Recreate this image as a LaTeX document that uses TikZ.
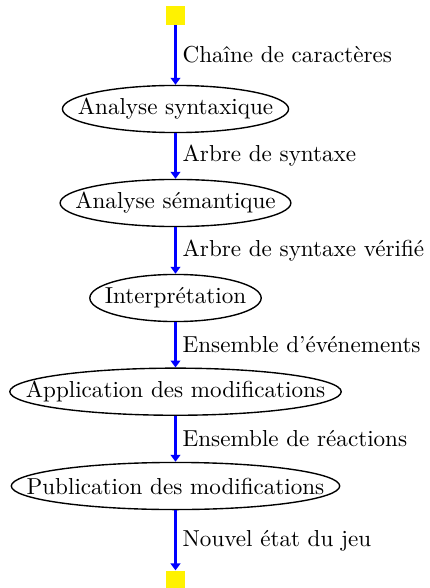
\documentclass[tikz,border=0pt]{standalone}
\usetikzlibrary{arrows.meta,shapes.geometric}
\begin{document}
\begin{tikzpicture}[x=0.433pt,y=-0.433pt,
  term/.style={rectangle, fill=yellow, draw=none, minimum size=8.2pt, inner sep=0pt},
  proc/.style={ellipse, draw=black, line width=0.6pt, inner sep=0pt, minimum height=20.4pt},
  txt/.style={inner sep=0pt},
  flow/.style={draw=blue, line width=1.0pt, -{Triangle[length=3pt,width=4.2pt]}},
  lbl/.style={right, inner sep=2.6pt, text=black}]
\useasboundingbox (0,0) rectangle (430,588);
\node[term] (s) at (175.5,15.3) {};
\node[proc, minimum width=97.9pt] (e1) at (175.5,109) {};
\node[txt] (t1) at (e1) {Analyse syntaxique};
\node[proc, minimum width=99.9pt] (e2) at (175.5,203) {};
\node[txt] (t2) at (e2) {Analyse sémantique};
\node[proc, minimum width=74.2pt] (e3) at (175.5,298) {};
\node[txt] (t3) at (e3) {Interprétation};
\node[proc, minimum width=143.5pt] (e4) at (175.5,391.7) {};
\node[txt] (t4) at (e4) {Application des modifications};
\node[proc, minimum width=142.2pt] (e5) at (175.5,486) {};
\node[txt] (t5) at (e5) {Publication des modifications};
\node[term] (f) at (175.5,580.3) {};
\draw[flow] (s) -- node[lbl] (l1) {Chaîne de caractères} (e1);
\draw[flow] (e1) -- node[lbl] (l2) {Arbre de syntaxe} (e2);
\draw[flow] (e2) -- node[lbl] (l3) {Arbre de syntaxe vérifié} (e3);
\draw[flow] (e3) -- node[lbl] (l4) {Ensemble d'événements} (e4);
\draw[flow] (e4) -- node[lbl] (l5) {Ensemble de réactions} (e5);
\draw[flow] (e5) -- node[lbl] (l6) {Nouvel état du jeu} (f);
\end{tikzpicture}
\end{document}
